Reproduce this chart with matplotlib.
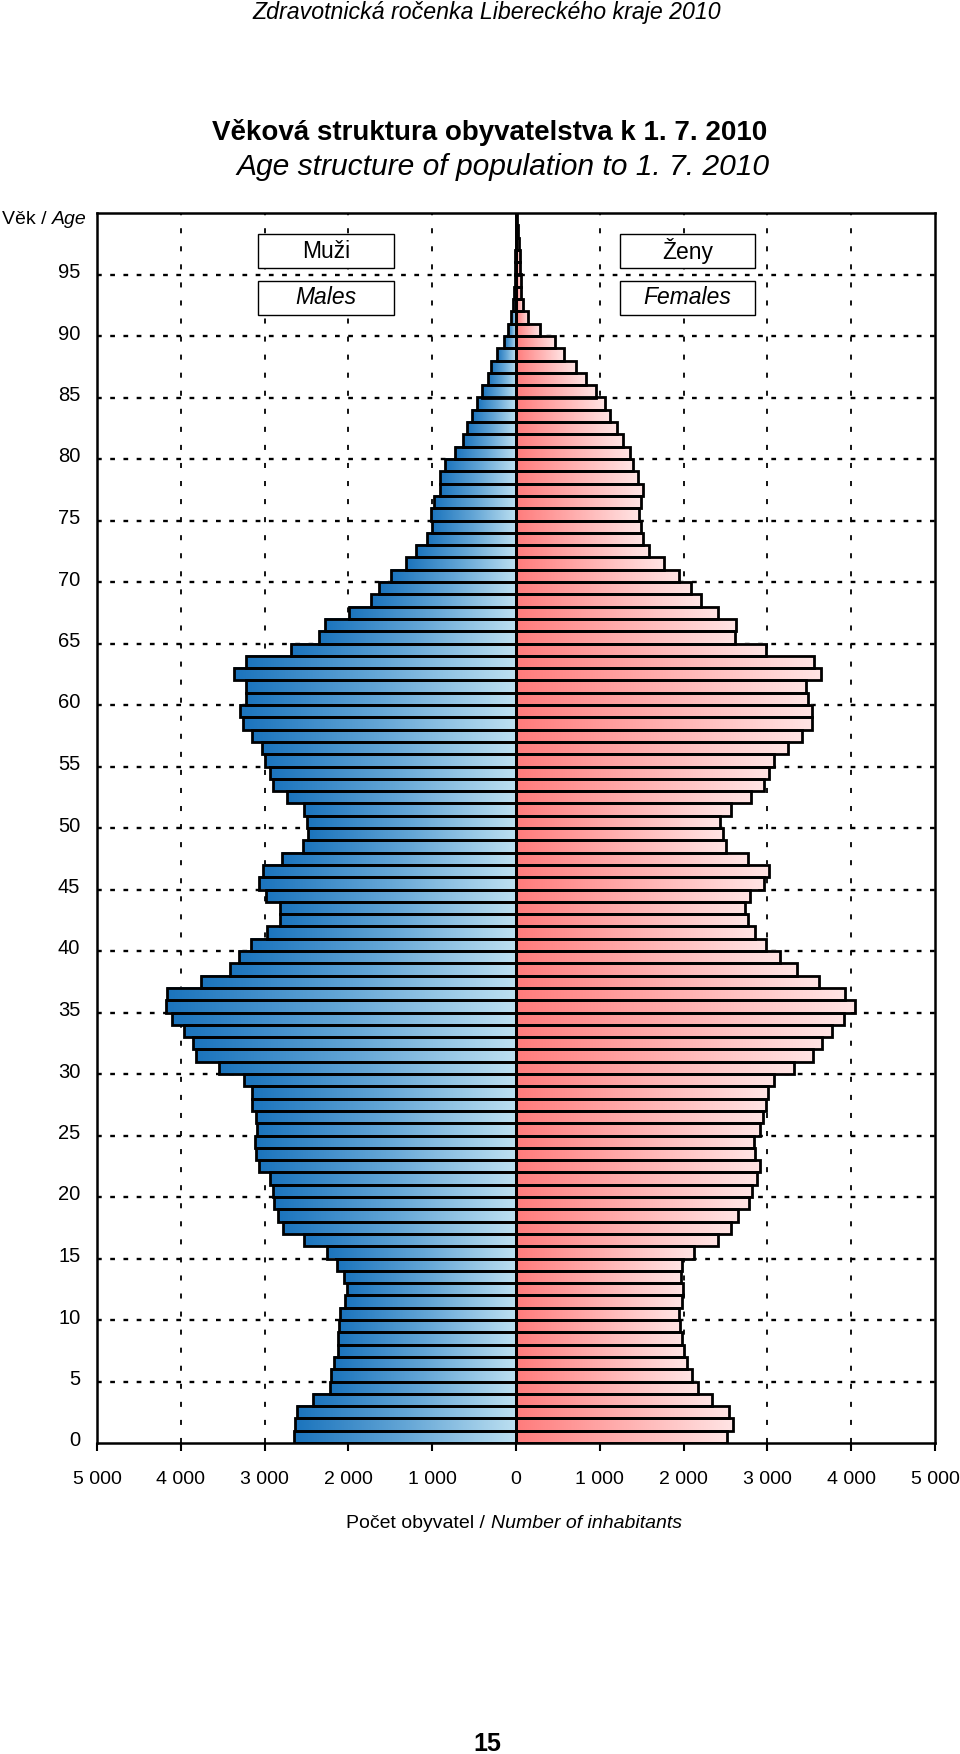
import numpy as np
import matplotlib.pyplot as plt
import matplotlib.transforms as mtransforms
from matplotlib.colors import LinearSegmentedColormap
from matplotlib.patches import Rectangle
from matplotlib.offsetbox import TextArea, HPacker, AnnotationBbox

plt.rcParams['font.family'] = ['Liberation Sans', 'DejaVu Sans']

# age 0..99, one bar per year of age
ages = np.arange(100)

males = [2650, 2640, 2615, 2420, 2220, 2210, 2170, 2125, 2125, 2115,
         2095, 2045, 2020, 2050, 2140, 2250, 2525, 2775, 2840, 2890,
         2900, 2940, 3065, 3100, 3115, 3095, 3100, 3155, 3155, 3250,
         3545, 3820, 3860, 3965, 4100, 4180, 4160, 3760, 3415, 3300,
         3160, 2970, 2820, 2820, 2985, 3065, 3020, 2790, 2545, 2485,
         2490, 2535, 2730, 2900, 2940, 2995, 3030, 3155, 3255, 3290,
         3225, 3220, 3360, 3225, 2680, 2350, 2285, 1995, 1730, 1635,
         1495, 1315, 1190, 1065, 1005, 1015, 980, 910, 910, 845,
         730, 630, 585, 520, 465, 400, 335, 300, 225, 145,
         95, 58, 30, 22, 15, 10, 8, 5, 3, 2]

females = [2520, 2585, 2540, 2335, 2170, 2100, 2035, 2000, 1985, 1955,
           1950, 1980, 1995, 1965, 1985, 2130, 2415, 2570, 2655, 2775,
           2820, 2875, 2910, 2855, 2845, 2910, 2950, 2980, 3005, 3080,
           3315, 3545, 3655, 3775, 3920, 4045, 3925, 3615, 3350, 3155,
           2985, 2855, 2765, 2735, 2795, 2955, 3015, 2765, 2510, 2465,
           2430, 2560, 2810, 2955, 3015, 3075, 3240, 3415, 3535, 3535,
           3490, 3465, 3635, 3560, 2985, 2615, 2620, 2415, 2205, 2090,
           1940, 1765, 1585, 1520, 1490, 1465, 1490, 1510, 1460, 1395,
           1365, 1275, 1205, 1125, 1060, 955, 840, 715, 570, 465,
           285, 145, 80, 65, 58, 50, 44, 30, 20, 12]

x_ticks = [-5000, -4000, -3000, -2000, -1000, 0, 1000, 2000, 3000, 4000, 5000]
y_ticks = list(range(0, 100, 5))

male_cmap = LinearSegmentedColormap.from_list('m', ['#1b74bd', '#64a6d6', '#bde0f1'])
female_cmap = LinearSegmentedColormap.from_list('f', ['#ff7c7c', '#ffb0b0', '#ffe4e4'])

fig = plt.figure(figsize=(9.6, 17.54), dpi=100)
ax = fig.add_axes([97 / 960, 311 / 1754, 838 / 960, 1230 / 1754])

# grid
for v in y_ticks[1:]:
    ax.axhline(v, color='black', lw=1.7, ls=(0, (2.0, 3.6)), zorder=1)
for v in x_ticks[1:-1]:
    if v != 0:
        ax.axvline(v, color='black', lw=1.3, ls=(0, (2.8, 7.2)), zorder=1)

# gradient fill per bar
grad = np.linspace(0, 1, 256).reshape(1, -1)
for a, m, f in zip(ages, males, females):
    ax.imshow(grad, cmap=male_cmap, extent=[-m, 0, a, a + 1], aspect='auto',
              interpolation='bilinear', zorder=2)
    ax.imshow(grad, cmap=female_cmap, extent=[0, f, a, a + 1], aspect='auto',
              interpolation='bilinear', zorder=2)

ax.barh(ages, [-m for m in males], height=1, align='edge', fill=False,
        edgecolor='black', lw=2.0, zorder=3)
ax.barh(ages, females, height=1, align='edge', fill=False,
        edgecolor='black', lw=2.0, zorder=3)
ax.axvline(0, color='black', lw=2.0, zorder=4)

ax.set_xlim(-5000, 5000)
ax.set_ylim(0, 100)
ax.set_xticks(x_ticks)
ax.set_xticklabels([f"{abs(v):,}".replace(',', ' ') for v in x_ticks], fontsize=14)
ax.set_yticks(y_ticks)
ax.set_yticklabels([str(v) for v in y_ticks], fontsize=14.5)
ax.tick_params(axis='y', length=0, pad=12)
ax.tick_params(axis='x', length=6, width=1.5, pad=14, direction='out')
# age labels sit a little above their grid lines
shift = mtransforms.ScaledTranslation(0, 4 / 100, fig.dpi_scale_trans)
for lab in ax.get_yticklabels():
    lab.set_transform(lab.get_transform() + shift)
for s in ax.spines.values():
    s.set_linewidth(1.8)

# legend boxes
boxes = [(-3075, 95.5, 'Muži', 'normal'), (-3075, 91.7, 'Males', 'italic'),
         (1241, 95.5, 'Ženy', 'normal'), (1241, 91.7, 'Females', 'italic')]
for x0, y0, label, style in boxes:
    ax.add_patch(Rectangle((x0, y0), 1615, 2.8, facecolor='white',
                           edgecolor='black', lw=1.0, zorder=5))
    ax.text(x0 + 1615 / 2, y0 + 1.4, label, ha='center', va='center',
            fontsize=16.5, style=style, zorder=6)

# titles
fig.text(487 / 960, 1 - 13 / 1754, 'Zdravotnická ročenka Libereckého kraje 2010',
         ha='center', va='center', fontsize=16.7, style='italic')
fig.text(490 / 960, 1 - 133 / 1754, 'Věková struktura obyvatelstva k 1. 7. 2010',
         ha='center', va='center', fontsize=20, weight='bold')
fig.text(503 / 960, 1 - 167 / 1754, 'Age structure of population to 1. 7. 2010',
         ha='center', va='center', fontsize=21.6, style='italic')


def mixed_label(parts, xy, align):
    box = HPacker(children=[TextArea(t, textprops=dict(fontsize=14, style=st))
                            for t, st in parts], pad=0, sep=4)
    ab = AnnotationBbox(box, xy, xycoords='figure fraction', frameon=False,
                        box_alignment=align)
    fig.add_artist(ab)


mixed_label([('Počet obyvatel /', 'normal'), ('Number of inhabitants', 'italic')],
            (514 / 960, 1 - 1524 / 1754), (0.5, 0.5))
mixed_label([('Věk /', 'normal'), ('Age', 'italic')],
            (2 / 960, 1 - 220 / 1754), (0.0, 0.5))

fig.text(487 / 960, 1 - 1732 / 1754, '15', ha='center', va='top',
         fontsize=18, weight='bold')

fig.savefig('out.png', dpi=100)
